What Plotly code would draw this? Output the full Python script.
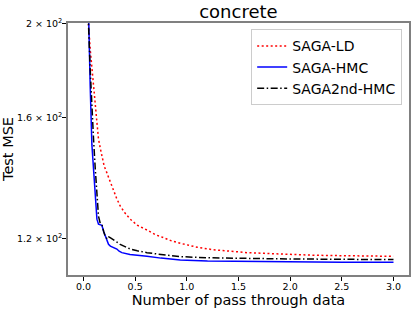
import plotly.graph_objects as go

# SAGA-LD
ld_x = [0.04, 0.048, 0.065, 0.081, 0.097, 0.113, 0.13, 0.145, 0.162, 0.178, 0.2, 0.226, 0.26, 0.29, 0.32,
        0.355, 0.4, 0.452, 0.52, 0.614, 0.7, 0.774, 0.85, 0.937, 1.0, 1.1, 1.258, 1.4, 1.582, 1.75, 1.904,
        2.1, 2.227, 2.4, 2.6, 2.8, 3.0]
ld_y = [215, 200, 188, 178.9, 171, 165.4, 158, 152, 148.7, 145.8, 142.5, 140.2, 137, 134.8, 132,
        129.6, 127.5, 125.6, 123.8, 122.4, 121, 120.2, 119.3, 118.6, 118.1, 117.5, 116.8, 116.4, 116.0, 115.8, 115.6,
        115.4, 115.3, 115.2, 115.1, 115.0, 115.0]

# SAGA-HMC
hmc_x = [0.04, 0.048, 0.065, 0.081, 0.097, 0.113, 0.13, 0.145, 0.16, 0.178, 0.195, 0.21, 0.226, 0.242, 0.26,
         0.29, 0.31, 0.323, 0.345, 0.371, 0.45, 0.52, 0.614, 0.75, 0.936, 1.2, 1.5, 2.0, 2.5, 3.0]
hmc_y = [225, 200, 172, 150, 140.2, 131.6, 125.6, 124.1, 124.0, 123.8, 122, 120.6, 119.3, 118.3, 117.8,
         117.4, 117.2, 117.0, 116.4, 116.0, 115.5, 115.2, 115.0, 114.5, 114.0, 113.7, 113.6, 113.5, 113.4, 113.4]

# SAGA2nd-HMC
hmc2_x = [0.04, 0.048, 0.065, 0.081, 0.091, 0.097, 0.113, 0.13, 0.145, 0.16, 0.178, 0.195, 0.21, 0.23, 0.245,
          0.258, 0.275, 0.29, 0.32, 0.355, 0.4, 0.452, 0.52, 0.614, 0.75, 0.936, 1.2, 1.5, 1.9, 2.4, 3.0]
hmc2_y = [225, 200, 179, 163, 159, 152, 142, 134.8, 126.5, 124.6, 124.1, 122, 120.6, 119.8, 120.4,
          120.2, 119.9, 119.7, 119.0, 118.3, 117.6, 117.0, 116.5, 116.0, 115.5, 114.9, 114.6, 114.4, 114.3, 114.2, 114.1]

y_ticks = [120, 160, 200]
y_tick_text = ["1.2 × 10<sup>2</sup>", "1.6 × 10<sup>2</sup>", "2 × 10<sup>2</sup>"]
x_ticks = [0.0, 0.5, 1.0, 1.5, 2.0, 2.5, 3.0]
x_tick_text = ["0.0", "0.5", "1.0", "1.5", "2.0", "2.5", "3.0"]

fig = go.Figure()
fig.add_trace(go.Scatter(x=ld_x, y=ld_y, mode="lines", name="SAGA-LD",
                         line=dict(color="red", width=1.5, dash="2px,2.5px")))
fig.add_trace(go.Scatter(x=hmc_x, y=hmc_y, mode="lines", name="SAGA-HMC",
                         line=dict(color="blue", width=1.5)))
fig.add_trace(go.Scatter(x=hmc2_x, y=hmc2_y, mode="lines", name="SAGA2nd-HMC",
                         line=dict(color="black", width=1.5, dash="7px,2.5px,1.5px,2.5px")))

fig.update_layout(
    width=415, height=311,
    margin=dict(l=68, r=6, t=23, b=36),
    paper_bgcolor="white", plot_bgcolor="white",
    font=dict(family="DejaVu Sans", color="black"),
    title=dict(text="concrete", x=0.5745, xanchor="center", y=0.962, yanchor="middle",
               font=dict(size=18)),
    showlegend=True,
    legend=dict(x=0.98, xanchor="right", y=0.975, yanchor="top",
                bordercolor="#cccccc", borderwidth=1, bgcolor="white",
                font=dict(size=14), itemwidth=30, tracegroupgap=0),
    xaxis=dict(range=[-0.15, 3.15], tickvals=x_ticks, ticktext=x_tick_text, automargin=False,
               ticks="outside", ticklen=4, tickcolor="black", tickfont=dict(size=9.5),
               ticklabelstandoff=-2,
               showgrid=False, zeroline=False, showline=True, mirror=True,
               linecolor="#808080", linewidth=1.5,
               title=dict(text="Number of pass through data", font=dict(size=14.5), standoff=3)),
    yaxis=dict(type="log", range=[2.0414, 2.3013], tickvals=y_ticks, ticktext=y_tick_text, automargin=False,
               ticks="outside", ticklen=4, tickcolor="black", tickfont=dict(size=9.5),
               ticklabelstandoff=-2,
               showgrid=False, zeroline=False, showline=True, mirror=True,
               linecolor="#808080", linewidth=1.5,
               title=dict(text="Test MSE", font=dict(size=14.5), standoff=2)),
)

fig.write_html("out.html", config={"displayModeBar": False},
               post_script="document.body.style.margin='0px';document.body.style.overflow='hidden';")
